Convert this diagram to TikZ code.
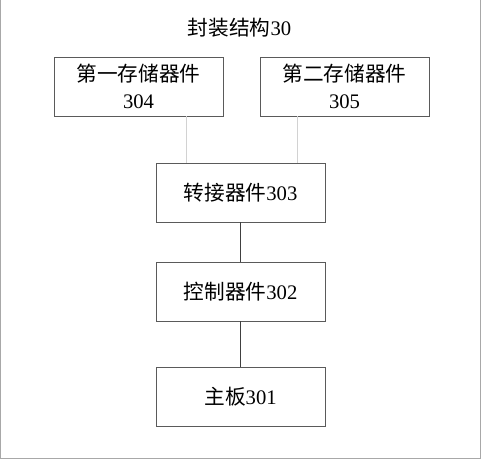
\documentclass[tikz,border=0pt]{standalone}
\usepackage{fontspec}
\setmainfont{Liberation Serif}
\newfontfamily\cjk{Noto Sans CJK SC}
\definecolor{box-gray}{HTML}{5A5A5A}
\definecolor{wire-light}{HTML}{D2D2D2}
\definecolor{wire-dark}{HTML}{404040}
\definecolor{frame-gray}{HTML}{A8A8A8}

\begin{document}
\begin{tikzpicture}[x=0.75pt, y=-0.75pt,
    part/.style={draw=box-gray, minimum width=126.75pt, minimum height=44.25pt,
      inner sep=0pt, align=center, font=\fontsize{15.5}{20}\selectfont}]
    \useasboundingbox (0, 0) rectangle (481, 460);
    \draw[frame-gray] (0.5, 0) -- (0.5, 458) -- (480, 458) -- (480, 0);

    \node[font=\fontsize{15.5}{20}\selectfont] (title) at (239.5, 28) {{\cjk 封装结构}30};

    \node[part] (mem1) at (138.5, 86.5) {{\cjk 第一存储器件}\\304};
    \node[part] (mem2) at (344.5, 86.5) {{\cjk 第二存储器件}\\305};
    \node[part] (adapter) at (240.5, 192.5) {{\cjk 转接器件}303};
    \node[part] (ctrl) at (240.5, 291.5) {{\cjk 控制器件}302};
    \node[part] (board) at (240.5, 396.5) {{\cjk 主板}301};

    \coordinate (tap1) at (186, 0);
    \coordinate (tap2) at (297, 0);
    \draw[wire-light] (mem1.south -| tap1) -- (adapter.north -| tap1);
    \draw[wire-light] (mem2.south -| tap2) -- (adapter.north -| tap2);
    \draw[wire-dark] (adapter) -- (ctrl);
    \draw[wire-dark] (ctrl) -- (board);
  \end{tikzpicture}
\end{document}
